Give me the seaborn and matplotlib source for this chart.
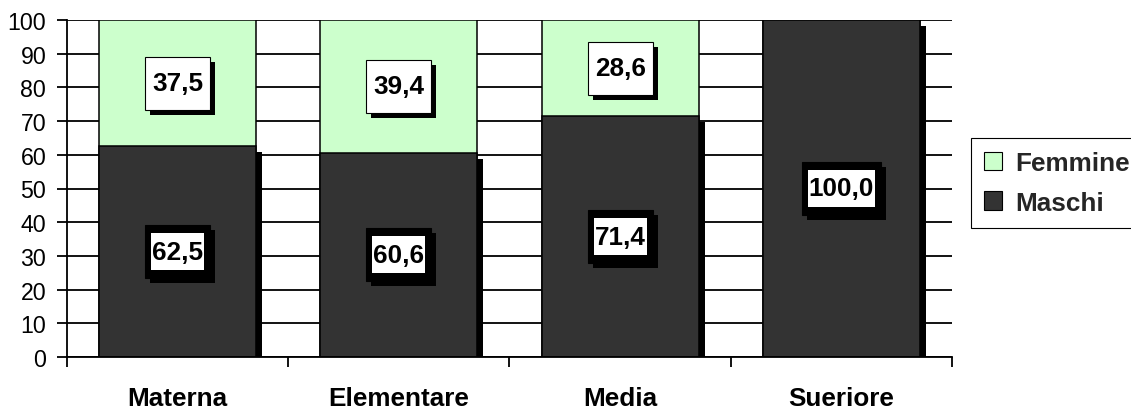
import matplotlib
matplotlib.use("Agg")
import matplotlib.pyplot as plt
import matplotlib.patheffects as pe
from matplotlib.patches import Patch, Rectangle
from matplotlib.transforms import ScaledTranslation
import numpy as np
import pandas as pd
import seaborn as sns

# Dati: percentuale di maschi e femmine per ordine di scuola
categorie = ["Materna", "Elementare", "Media", "Sueriore"]
maschi = [62.5, 60.6, 71.4, 100.0]
femmine = [37.5, 39.4, 28.6, 0.0]
tick_y = list(range(0, 101, 10))

sns.set_style("white")
plt.rcParams["font.family"] = ["Liberation Sans", "DejaVu Sans"]

COL_M = "#333333"
COL_F = "#CCFFCC"
FS_BIG = 18.8
FS_TICK = 16.7
LW = 1.3

df = pd.DataFrame({"categoria": categorie, "Maschi": maschi, "Femmine": femmine})
df["totale"] = df["Maschi"] + df["Femmine"]

W_PX, H_PX = 1131, 410
fig = plt.figure(figsize=(W_PX / 100, H_PX / 100), dpi=100)
ax = fig.add_axes([67 / W_PX, 1 - 358 / H_PX, (952 - 67) / W_PX, (358 - 21) / H_PX])

# Barre impilate: prima il totale (parte femmine visibile in alto), poi i maschi
sns.barplot(data=df, x="categoria", y="totale", color=COL_F, saturation=1,
            width=0.71, edgecolor="black", linewidth=1.1, errorbar=None,
            ax=ax, zorder=2)
n_f = len(ax.patches)
sns.barplot(data=df, x="categoria", y="Maschi", color=COL_M, saturation=1,
            width=0.71, edgecolor="black", linewidth=1.1, errorbar=None,
            ax=ax, zorder=2)
for p in ax.patches[n_f:]:
    p.set_path_effects([pe.SimplePatchShadow(offset=(4.3, -4.3),
                                             shadow_rgbFace="black", alpha=1),
                        pe.Normal()])

# Assi e griglia
ax.set_xlim(-0.5, len(categorie) - 0.5)
ax.set_ylim(0, 100)
ax.set_yticks(tick_y)
ax.yaxis.grid(True, color="black", linewidth=LW)
ax.xaxis.grid(False)
ax.set_axisbelow(True)
ax.set_xlabel("")
ax.set_ylabel("")
for s in ("top", "right"):
    ax.spines[s].set_visible(False)
for s in ("left", "bottom"):
    ax.spines[s].set_color("black")
    ax.spines[s].set_linewidth(LW)

ax.tick_params(axis="y", left=True, length=7, width=LW, color="black",
               labelsize=FS_TICK, labelcolor="black", pad=8)
ax.set_xticks(np.arange(-0.5, len(categorie), 1), minor=True)
ax.tick_params(axis="x", which="minor", bottom=True, length=7, width=LW,
               color="black")
ax.tick_params(axis="x", which="major", bottom=False, length=0, pad=21,
               labelsize=FS_BIG, labelcolor="black")
for lab in ax.get_xticklabels():
    lab.set_fontweight("bold")

# Etichette dei valori in riquadri con ombra
fig.canvas.draw()
renderer = fig.canvas.get_renderer()
ombra = [pe.SimplePatchShadow(offset=(3.6, -3.6), shadow_rgbFace="black", alpha=1),
         pe.Normal()]


def etichetta(x, y, valore, scuro):
    testo = f"{valore:.1f}".replace(".", ",")
    t = ax.text(x, y, testo, ha="center", va="center", fontsize=FS_BIG,
                fontweight="bold", color="black", zorder=7)
    bb = t.get_window_extent(renderer)
    w_in = bb.width / fig.dpi
    trans = fig.dpi_scale_trans + ScaledTranslation(x, y, ax.transData)
    W = w_in + 0.14
    H = 0.53
    box = Rectangle((-W / 2, -H / 2), W, H, transform=trans,
                    facecolor="black" if scuro else "white",
                    edgecolor="black", linewidth=0.8, zorder=5)
    box.set_path_effects(ombra)
    ax.add_patch(box)
    if scuro:
        Wi = w_in + 0.02
        Hi = 0.37
        ax.add_patch(Rectangle((-Wi / 2, -Hi / 2), Wi, Hi, transform=trans,
                               facecolor="white", edgecolor="none", zorder=6))


for i, (m, f) in enumerate(zip(maschi, femmine)):
    etichetta(i, m / 2, m, True)
    if f > 0:
        etichetta(i, m + f / 2, f, False)

ax.set_xlim(-0.5, len(categorie) - 0.5)
ax.set_ylim(0, 100)

# Legenda
handles = [Patch(facecolor=COL_F, edgecolor="black", linewidth=0.8, label="Femmine"),
           Patch(facecolor=COL_M, edgecolor="black", linewidth=0.8, label="Maschi")]
leg = fig.legend(handles=handles, loc="upper left",
                 bbox_to_anchor=(971 / W_PX, 1 - 139 / H_PX),
                 frameon=True, fancybox=False, edgecolor="black", framealpha=1,
                 prop={"weight": "bold", "size": FS_BIG},
                 handlelength=0.7, handleheight=0.7, handletextpad=0.5,
                 borderpad=0.5, labelspacing=0.6, borderaxespad=0)
leg.get_frame().set_linewidth(0.8)

fig.savefig("out.png", dpi=100)
